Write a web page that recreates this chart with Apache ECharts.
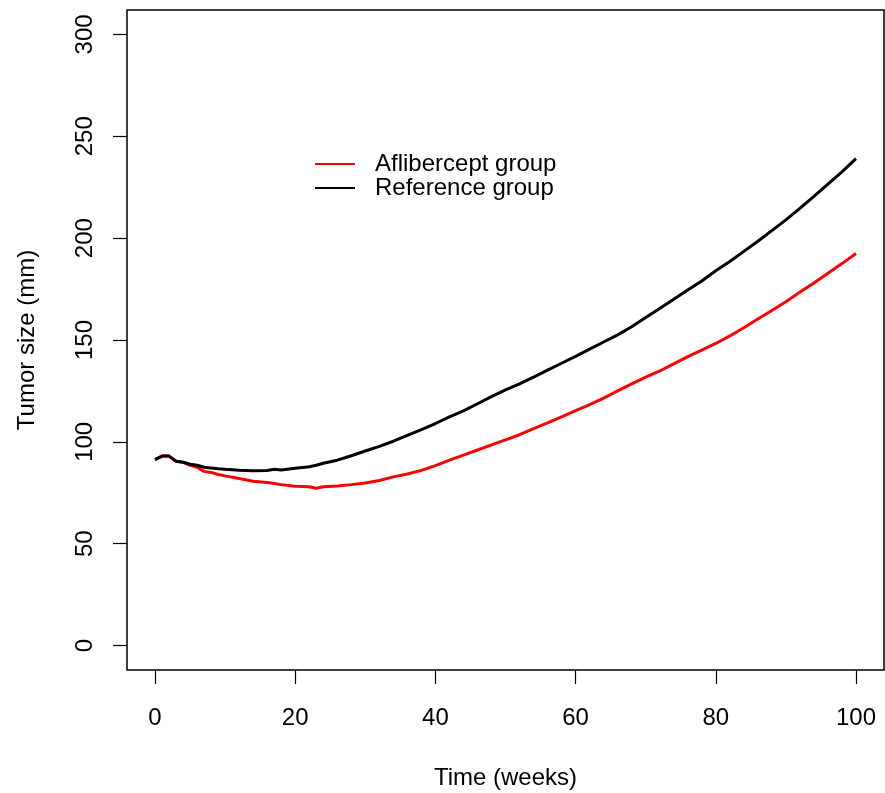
<!DOCTYPE html>
<html>
<head>
<meta charset="utf-8">
<script src="https://cdn.jsdelivr.net/npm/echarts@6/dist/echarts.min.js"></script>
<style>
html,body{margin:0;padding:0;background:#fff;}
#chart{width:885px;height:793px;}
</style>
</head>
<body>
<div id="chart"></div>
<script>
var weeks = [0,1,2,3,4,5,6,7,8,9,10,12,14,16,17,18,20,22,23,24,26,28,30,32,34,36,38,40,42,44,46,48,50,52,54,56,58,60,62,64,66,68,70,72,74,76,78,80,82,84,86,88,90,92,94,96,98,100];
var aflibercept = [91.3,93,93,90.5,90,88.5,87.5,85.5,85,84,83.3,82,80.7,80,79.6,79,78.2,78,77.2,78,78.3,79,79.8,81,82.8,84.2,86,88.3,91,93.5,96,98.5,101,103.5,106.5,109.3,112.3,115.3,118.3,121.5,125,128.5,131.8,134.8,138.3,141.8,145,148.3,152,156,160.3,164.5,168.8,173.5,178,182.8,187.5,192.5];
var reference = [91.3,93,93,90.5,90,89,88.5,87.5,87.2,86.8,86.5,86,85.8,85.9,86.5,86.2,87,87.8,88.5,89.5,91,93.2,95.5,97.8,100.3,103.2,106,109,112.3,115.2,118.7,122.2,125.5,128.5,131.8,135.2,138.6,142,145.5,149,152.5,156.5,161,165.5,170,174.5,179,184,188.5,193.5,198.5,203.7,209,214.6,220.5,226.5,232.5,239];
var xTicks = [0,20,40,60,80,100];
var yTicks = [0,50,100,150,200,250,300];
var seriesNames = ['Aflibercept group','Reference group'];

function pairs(xs, ys){ return xs.map(function(x,i){ return [x, ys[i]]; }); }

var font = 'Liberation Sans, Arial, sans-serif';
var chart = echarts.init(document.getElementById('chart'), null, {renderer:'canvas'});
chart.setOption({
  backgroundColor:'#fff',
  animation:false,
  grid:{left:127, top:10, width:757, height:660, show:true, borderColor:'#000', borderWidth:1.5, backgroundColor:'transparent', containLabel:false, outerBoundsMode:'none'},
  legend:{
    left:310, top:147, orient:'vertical', itemGap:0, itemWidth:40, itemHeight:2, icon:'rect',
    textStyle:{fontFamily:font, fontSize:24, color:'#000', lineHeight:24, padding:[0,0,0,15]},
    data:[{name:seriesNames[0], itemStyle:{color:'#ff0000'}},{name:seriesNames[1], itemStyle:{color:'#000'}}]
  },
  xAxis:{
    type:'value', min:-4, max:104,
    name:'Time (weeks)', nameLocation:'middle', nameGap:96,
    nameTextStyle:{fontFamily:font, fontSize:24, color:'#000'},
    axisLine:{show:false, onZero:false},
    splitLine:{show:false},
    axisTick:{show:true, inside:false, length:14, customValues:xTicks, lineStyle:{color:'#000', width:1.2}},
    axisLabel:{customValues:xTicks, margin:36, fontFamily:font, fontSize:24, color:'#000'}
  },
  yAxis:{
    type:'value', min:-12, max:312,
    name:'Tumor size (mm)', nameLocation:'middle', nameGap:88,
    nameTextStyle:{fontFamily:font, fontSize:24, color:'#000'},
    axisLine:{show:false, onZero:false},
    splitLine:{show:false},
    axisTick:{show:true, inside:false, length:14, customValues:yTicks, lineStyle:{color:'#000', width:1.2}},
    axisLabel:{customValues:yTicks, rotate:90, margin:30, fontFamily:font, fontSize:24, color:'#000'}
  },
  series:[
    {name:seriesNames[0], type:'line', data:pairs(weeks, aflibercept), symbol:'none', lineStyle:{color:'#ff0000', width:3}, itemStyle:{color:'#ff0000'}},
    {name:seriesNames[1], type:'line', data:pairs(weeks, reference), symbol:'none', lineStyle:{color:'#000', width:3}, itemStyle:{color:'#000'}}
  ]
});
</script>
</body>
</html>
